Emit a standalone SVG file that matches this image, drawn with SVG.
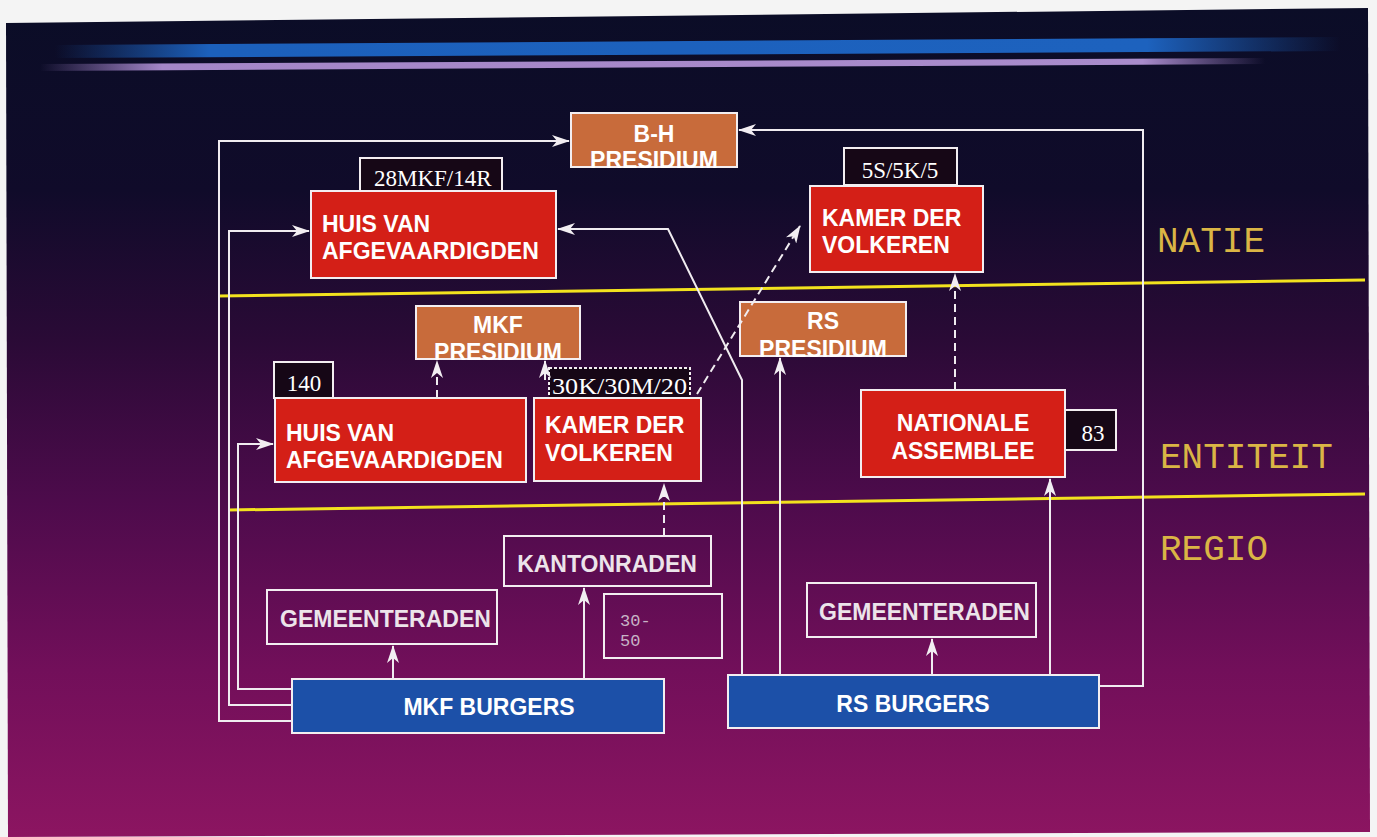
<svg xmlns="http://www.w3.org/2000/svg" width="1377" height="837" viewBox="0 0 1377 837">
<defs>
<linearGradient id="bg" x1="0" y1="0" x2="0" y2="1">
<stop offset="0" stop-color="#0b0d27"/>
<stop offset="0.22" stop-color="#100b2a"/>
<stop offset="0.4" stop-color="#2a0a36"/>
<stop offset="0.6" stop-color="#4e0b4c"/>
<stop offset="0.8" stop-color="#720f5a"/>
<stop offset="1" stop-color="#8c1561"/>
</linearGradient>
<linearGradient id="bst" x1="0" y1="0" x2="1" y2="0">
<stop offset="0" stop-color="#1a5ab0" stop-opacity="0"/>
<stop offset="0.12" stop-color="#1c60bc"/>
<stop offset="0.85" stop-color="#1d62be"/>
<stop offset="1" stop-color="#1a5ab0" stop-opacity="0"/>
</linearGradient>
<linearGradient id="pst" x1="0" y1="0" x2="1" y2="0">
<stop offset="0" stop-color="#a080c8" stop-opacity="0"/>
<stop offset="0.1" stop-color="#a486c8"/>
<stop offset="0.9" stop-color="#a98ccc"/>
<stop offset="1" stop-color="#a080c8" stop-opacity="0"/>
</linearGradient>
<marker id="ah" viewBox="0 0 18 12" refX="17" refY="6" markerWidth="18" markerHeight="12" markerUnits="userSpaceOnUse" orient="auto">
<path d="M0,0 L18,6 L0,12 L5,6 z" fill="#f2eef2"/>
</marker>
</defs>
<style>
.bx{stroke:#f3eef1;stroke-width:2}
.red{fill:#d41f17}
.org{fill:#c86b3b}
.blu{fill:#1c50a8}
.out{fill:none}
.cnt{fill:#160716}
.t{font-family:"Liberation Sans",Arial,sans-serif;font-weight:bold;font-size:23px;fill:#ffffff}
.tl{font-family:"Liberation Sans",Arial,sans-serif;font-weight:bold;font-size:23px;fill:#ece4ea}
.n{font-family:"Liberation Serif","Times New Roman",serif;font-size:23px;fill:#ffffff}
.lvl{font-family:"Liberation Mono","Courier New",monospace;font-size:36px;fill:#dab545}
.sm{font-family:"Liberation Mono","Courier New",monospace;font-size:17px;fill:#c8b4c6}
.c{fill:none;stroke:#f0ecf0;stroke-width:2}
.d{stroke-dasharray:8 5}
.yl{stroke:#f2e21e;stroke-width:3}
</style>

<rect x="0" y="0" width="1377" height="837" fill="#f4f4f4"/>
<polygon points="6,23 1368,8 1370,832 8,837" fill="url(#bg)"/>
<polygon points="55,45 1340,37 1340,51 55,58" fill="url(#bst)"/>
<polygon points="40,64 1265,58 1265,64 40,71" fill="url(#pst)"/>

<g id="levels">
<line class="yl" x1="218" y1="296" x2="1365" y2="280"/>
<line class="yl" x1="228" y1="510" x2="1365" y2="494"/>
<text class="lvl" x="1157" y="252">NATIE</text>
<text class="lvl" x="1160" y="468">ENTITEIT</text>
<text class="lvl" x="1160" y="560">REGIO</text>
</g>

<g id="bh-presidium">
<rect class="bx org" x="571" y="113" width="166" height="54"/>
<text class="t" x="654" y="142" text-anchor="middle">B-H</text>
<text class="t" x="654" y="168" text-anchor="middle">PRESIDIUM</text>
</g>

<g id="n-28mkf">
<rect class="bx cnt" x="360" y="158" width="142" height="34"/>
<text class="n" x="374" y="186">28MKF/14R</text>
</g>

<g id="huis-natie">
<rect class="bx red" x="311" y="191" width="245" height="87"/>
<text class="t" x="322" y="232">HUIS VAN</text>
<text class="t" x="322" y="259">AFGEVAARDIGDEN</text>
</g>

<g id="n-5s">
<rect class="bx cnt" x="844" y="148" width="113" height="37"/>
<text class="n" x="900" y="178" text-anchor="middle">5S/5K/5</text>
</g>

<g id="kamer-natie">
<rect class="bx red" x="810" y="186" width="173" height="86"/>
<text class="t" x="822" y="226">KAMER DER</text>
<text class="t" x="822" y="253">VOLKEREN</text>
</g>

<g id="mkf-presidium">
<rect class="bx org" x="416" y="306" width="164" height="53"/>
<text class="t" x="498" y="333" text-anchor="middle">MKF</text>
<text class="t" x="498" y="360" text-anchor="middle">PRESIDIUM</text>
</g>

<g id="rs-presidium">
<rect class="bx org" x="740" y="302" width="166" height="54"/>
<text class="t" x="823" y="329" text-anchor="middle">RS</text>
<text class="t" x="823" y="357" text-anchor="middle">PRESIDIUM</text>
</g>

<g id="n-140">
<rect class="bx cnt" x="274" y="362" width="59" height="36" fill="#2a0a30"/>
<text class="n" x="304" y="391" text-anchor="middle">140</text>
</g>

<g id="huis-entiteit">
<rect class="bx red" x="275" y="398" width="251" height="84"/>
<text class="t" x="286" y="441">HUIS VAN</text>
<text class="t" x="286" y="468">AFGEVAARDIGDEN</text>
</g>

<g id="n-30k">
<rect class="bx cnt" x="549" y="368" width="141" height="30" stroke-dasharray="3 2"/>
<text class="n" x="552" y="394" textLength="135" lengthAdjust="spacingAndGlyphs">30K/30M/20</text>
</g>

<g id="kamer-entiteit">
<rect class="bx red" x="534" y="398" width="167" height="83"/>
<text class="t" x="545" y="433">KAMER DER</text>
<text class="t" x="545" y="461">VOLKEREN</text>
</g>

<g id="nat-assemblee">
<rect class="bx red" x="861" y="390" width="204" height="87"/>
<text class="t" x="963" y="431" text-anchor="middle">NATIONALE</text>
<text class="t" x="963" y="459" text-anchor="middle">ASSEMBLEE</text>
</g>

<g id="n-83">
<rect class="bx cnt" x="1065" y="410" width="51" height="40"/>
<text class="n" x="1093" y="441" text-anchor="middle">83</text>
</g>

<g id="kantonraden">
<rect class="bx out" x="504" y="536" width="207" height="50"/>
<text class="tl" x="607" y="572" text-anchor="middle">KANTONRADEN</text>
</g>

<g id="n-3050">
<rect class="bx out" x="604" y="594" width="118" height="64"/>
<text class="sm" x="620" y="626">30-</text>
<text class="sm" x="620" y="646">50</text>
</g>

<g id="gemeenteraden-mkf">
<rect class="bx out" x="267" y="590" width="230" height="54"/>
<text class="tl" x="280" y="627">GEMEENTERADEN</text>
</g>

<g id="gemeenteraden-rs">
<rect class="bx out" x="807" y="583" width="229" height="54"/>
<text class="tl" x="819" y="620">GEMEENTERADEN</text>
</g>

<g id="mkf-burgers">
<rect class="bx blu" x="292" y="679" width="372" height="54"/>
<text class="t" x="489" y="715" text-anchor="middle">MKF BURGERS</text>
</g>

<g id="rs-burgers">
<rect class="bx blu" x="728" y="675" width="371" height="53"/>
<text class="t" x="913" y="712" text-anchor="middle">RS BURGERS</text>
</g>

<g id="connectors">
<path class="c" d="M292,721 H219 V141 H569" marker-end="url(#ah)"/>
<path class="c" d="M292,705 H229 V231 H309" marker-end="url(#ah)"/>
<path class="c" d="M292,689 H238 V444 H273" marker-end="url(#ah)"/>
<path class="c" d="M393,679 V646" marker-end="url(#ah)"/>
<path class="c" d="M584,679 V588" marker-end="url(#ah)"/>
<path class="c d" d="M664,536 V484" marker-end="url(#ah)"/>
<path class="c d" d="M437,398 V361" marker-end="url(#ah)"/>
<path class="c" d="M545,380 V361" marker-end="url(#ah)"/>
<path class="c d" d="M697,394 L800,226" marker-end="url(#ah)"/>
<path class="c" d="M742,675 V380 L668,229 H558" marker-end="url(#ah)"/>
<path class="c" d="M780,675 V358" marker-end="url(#ah)"/>
<path class="c" d="M932,675 V639" marker-end="url(#ah)"/>
<path class="c" d="M1050,675 V479" marker-end="url(#ah)"/>
<path class="c d" d="M955,390 V274" marker-end="url(#ah)"/>
<path class="c" d="M1099,686 H1143 V130 H739" marker-end="url(#ah)"/>
</g>
</svg>
